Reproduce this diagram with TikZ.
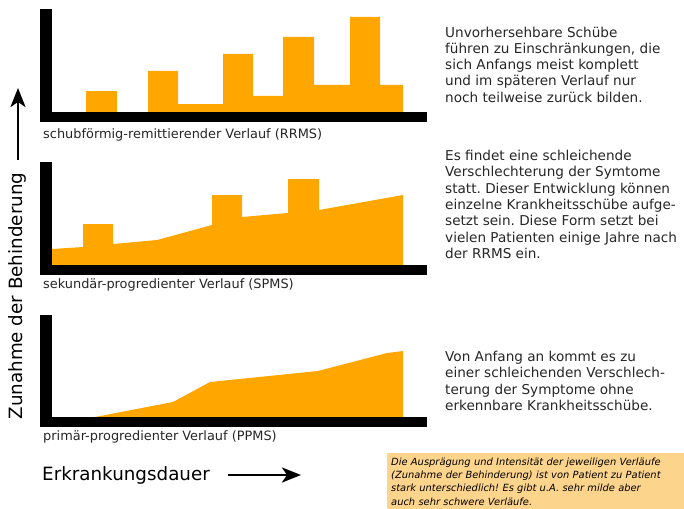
\documentclass[tikz,border=0pt]{standalone}
\usepackage{fontspec}
\setmainfont{DejaVu Sans}
\usepackage{tikz}
\usetikzlibrary{positioning,arrows.meta}
\frenchspacing

\definecolor{msorange}{RGB}{255,166,0}
\definecolor{notebg}{RGB}{253,212,139}

\begin{document}
\begin{tikzpicture}[x=1pt,y=-1pt]
\tikzset{curve/.style={fill=msorange}}
\tikzset{axis/.style={fill=black}}
\tikzset{lbl/.style={anchor=west,inner sep=0pt,text=black!85,font=\fontsize{12.9}{15}\selectfont}}
\tikzset{txt/.style={anchor=north west,inner sep=0pt,align=left,text=black!85,font=\fontsize{13.6}{16.3}\selectfont}}
\tikzset{big/.style={inner sep=0pt,font=\fontsize{18.3}{21}\selectfont}}
\tikzset{arr/.style={line width=2.8pt,-{Stealth[length=19pt,width=15pt,inset=5pt]}}}
\tikzset{note/.style={anchor=north west,fill=notebg,inner xsep=4pt,inner ysep=5pt,minimum height=55pt,text width=291pt,align=left,font=\fontsize{9.9}{13.1}\selectfont\itshape}}

  \useasboundingbox (0,0) rectangle (684,508);

  % RRMS
  \fill[curve] (86,112) rectangle (117,91);
  \fill[curve] (148,112) -- (148,71) -- (178,71) -- (178,104) -- (223,104) -- (223,54)
    -- (253,54) -- (253,96) -- (283,96) -- (283,37) -- (314,37) -- (314,85) -- (350,85)
    -- (350,17) -- (380,17) -- (380,85) -- (403,85) -- (403,112) -- cycle;

  % SPMS
  \fill[curve] (52,265) -- (52,249) -- (83,247) -- (83,224) -- (113,224) -- (113,244)
    -- (157,240) -- (212,225) -- (212,195) -- (242,195) -- (242,217) -- (288,213)
    -- (288,179) -- (319,179) -- (319,210) -- (403,195) -- (403,265) -- cycle;

  % PPMS
  \fill[curve] (95,417) -- (173,402) -- (210,382) -- (318,371) -- (387,353) -- (403,351)
    -- (403,417) -- cycle;

  \foreach \t/\b in {9/112,162/265,315/417} {
    \fill[axis] (40,\t) rectangle (52,\b+10);
    \fill[axis] (40,\b) rectangle (427,\b+10);
  }

  \node[lbl] (rrms) at (43,135) {schubförmig-remittierender Verlauf (RRMS)};
  \node[lbl] (spms) at (43,285) {sekundär-progredienter Verlauf (SPMS)};
  \node[lbl] (ppms) at (43,437) {primär-progredienter Verlauf (PPMS)};

  \node[txt] (rrmstxt) at (445,26.5) {Unvorhersehbare Schübe\\führen zu Einschränkungen, die\\sich Anfangs meist komplett\\und im späteren Verlauf nur\\noch teilweise zurück bilden.};
  \node[txt] (spmstxt) at (445,150) {Es findet eine schleichende\\Verschlechterung der Symtome\\statt. Dieser Entwicklung können\\einzelne Krankheitsschübe aufge-\\setzt sein. Diese Form setzt bei\\vielen Patienten einige Jahre nach\\der RRMS ein.};
  \node[txt] (ppmstxt) at (445,351) {Von Anfang an kommt es zu\\einer schleichenden Verschlech-\\terung der Symptome ohne\\erkennbare Krankheitsschübe.};

  \node[big,rotate=90] (ylbl) at (17,296) {Zunahme der Behinderung};
  \coordinate (ybot) at (18,160);
  \coordinate (ytop) at (18,88);
  \draw[arr] (ybot) -- (ytop);

  \node[big,anchor=west] (xlbl) at (42,475) {Erkrankungsdauer};
  \coordinate (xleft) at (228,475);
  \coordinate (xright) at (301,475);
  \draw[arr] (xleft) -- (xright);

  \node[note] (hint) at (387,453) {Die Ausprägung und Intensität der jeweiligen Verläufe\\(Zunahme der Behinderung) ist von Patient zu Patient\\stark unterschiedlich! Es gibt u.A. sehr milde aber\\auch sehr schwere Verläufe.};
\end{tikzpicture}
\end{document}
